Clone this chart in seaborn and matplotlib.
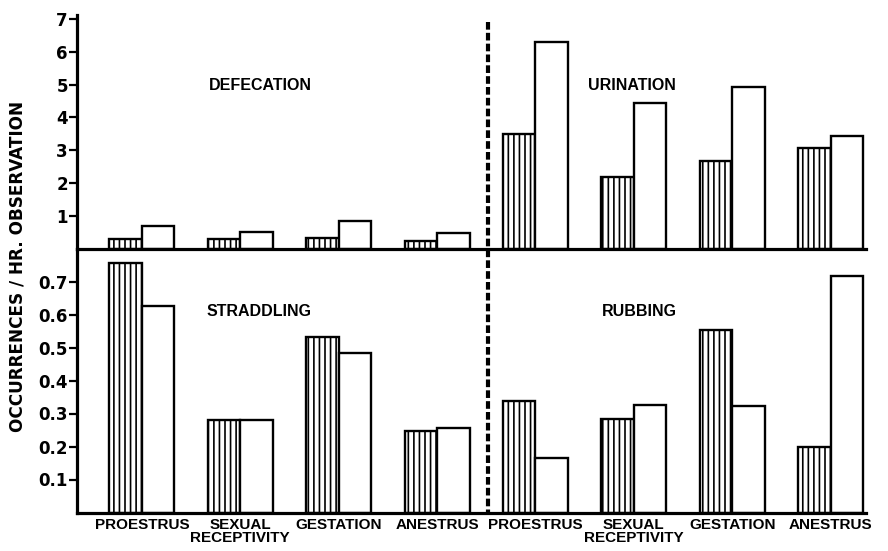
import matplotlib
matplotlib.use("Agg")
import matplotlib.pyplot as plt
import seaborn as sns
import pandas as pd
from matplotlib.lines import Line2D
from matplotlib.transforms import blended_transform_factory

# Reproductive stages (repeated for the left and right behaviour blocks)
stages = ["PROESTRUS", "SEXUAL\nRECEPTIVITY", "GESTATION", "ANESTRUS"]
groups = ["striped", "open"]

# Occurrences per hour of observation
defecation_striped = [0.30, 0.30, 0.33, 0.22]
defecation_open = [0.70, 0.51, 0.83, 0.48]
urination_striped = [3.48, 2.17, 2.68, 3.07]
urination_open = [6.29, 4.43, 4.91, 3.43]
straddling_striped = [0.757, 0.28, 0.531, 0.247]
straddling_open = [0.627, 0.28, 0.484, 0.257]
rubbing_striped = [0.338, 0.282, 0.552, 0.20]
rubbing_open = [0.165, 0.327, 0.323, 0.717]

top_ticks = [1, 2, 3, 4, 5, 6, 7]
bottom_ticks = [0.1, 0.2, 0.3, 0.4, 0.5, 0.6, 0.7]

sns.set_style("white")
plt.rcParams["font.family"] = ["Liberation Sans", "DejaVu Sans"]
plt.rcParams["font.weight"] = "bold"
plt.rcParams["text.color"] = "black"
plt.rcParams["axes.labelcolor"] = "black"
plt.rcParams["xtick.color"] = "black"
plt.rcParams["ytick.color"] = "black"
plt.rcParams["hatch.linewidth"] = 1.2
plt.rcParams["hatch.color"] = "black"
plt.rcParams["lines.scale_dashes"] = False

W, H = 888, 551
fig = plt.figure(figsize=(W / 100, H / 100), dpi=100)
fig.patch.set_facecolor("white")


def axes_px(left, top, right, bottom):
    return fig.add_axes([left / W, 1 - bottom / H, (right - left) / W, (bottom - top) / H])


ax_top = axes_px(77, 15, 866, 248.5)
ax_bot = axes_px(77, 248.5, 866, 512.5)

slots = [f"L{i}" for i in range(4)] + [f"R{i}" for i in range(4)]
tick_font = dict(family="DejaVu Sans", weight="bold", size=12)


def panel(ax, left_s, left_o, right_s, right_o):
    rows = []
    for i in range(4):
        rows.append((slots[i], left_s[i], "striped"))
        rows.append((slots[i], left_o[i], "open"))
        rows.append((slots[4 + i], right_s[i], "striped"))
        rows.append((slots[4 + i], right_o[i], "open"))
    df = pd.DataFrame(rows, columns=["slot", "value", "group"])
    sns.barplot(data=df, x="slot", y="value", hue="group", order=slots,
                hue_order=groups, palette=["white", "white"], saturation=1,
                width=0.66, gap=0, dodge=True, edgecolor="black",
                linewidth=1.7, errorbar=None, legend=False, ax=ax)
    for bar in ax.containers[0]:
        bar.set_hatch("|||")
    ax.set_xlim(-0.66, 7.36)
    ax.set_xlabel("")
    ax.set_ylabel("")
    ax.set_facecolor("none")
    for side in ("top", "right"):
        ax.spines[side].set_visible(False)
    for side in ("left", "bottom"):
        ax.spines[side].set_linewidth(2.3)
        ax.spines[side].set_color("black")
    ax.tick_params(axis="y", direction="out", length=5.5, width=1.6,
                   pad=1.0, left=True)


panel(ax_top, defecation_striped, defecation_open, urination_striped, urination_open)
panel(ax_bot, straddling_striped, straddling_open, rubbing_striped, rubbing_open)

ax_top.set_ylim(0, 7.12)
ax_top.set_yticks(top_ticks)
ax_top.set_yticklabels([str(t) for t in top_ticks], fontdict=tick_font)
ax_top.set_xticks([])

ax_bot.set_ylim(0, 0.8)
ax_bot.set_yticks(bottom_ticks)
ax_bot.set_yticklabels([f"{t:.1f}" for t in bottom_ticks], fontdict=tick_font)
ax_bot.set_xticks(range(8))
ax_bot.set_xticklabels(stages + stages, fontsize=11, fontweight="bold",
                       linespacing=0.92, va="top")
ax_bot.tick_params(axis="x", length=0, pad=4)

# Behaviour titles
title_kw = dict(ha="center", va="center", fontsize=11.5, fontweight="bold")
ax_top.text(1.2, 4.98, "DEFECATION", **title_kw)
ax_top.text(4.98, 4.98, "URINATION", **title_kw)
ax_bot.text(1.19, 0.61, "STRADDLING", **title_kw)
ax_bot.text(5.06, 0.61, "RUBBING", **title_kw)

fig.text(18 / W, 1 - 266 / H, "OCCURRENCES / HR. OBSERVATION", rotation=90,
         ha="center", va="center", family="DejaVu Sans", fontsize=12.2,
         fontweight="bold")

# Dashed divider between the left and right behaviour blocks
trans = blended_transform_factory(ax_bot.transData, fig.transFigure)
divider = Line2D([3.52, 3.52], [1 - 22 / H, 1 - 515 / H], transform=trans,
                 color="black", linewidth=3.0, linestyle=(0, (5.5, 2.3)),
                 dash_capstyle="butt")
fig.add_artist(divider)

fig.savefig("out.png", dpi=100, facecolor="white")
